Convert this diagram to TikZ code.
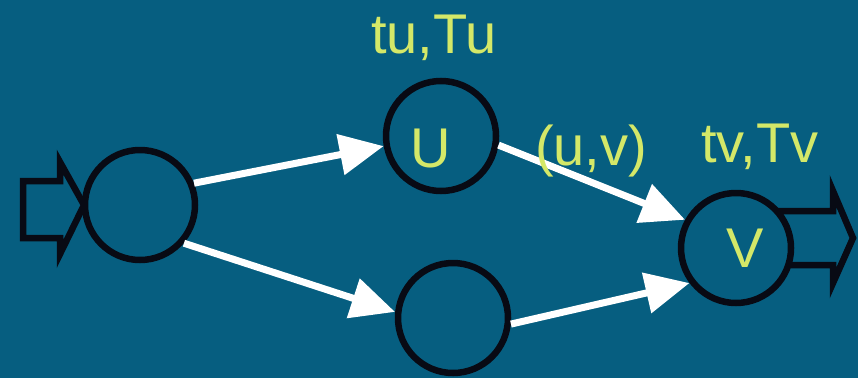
\documentclass[tikz,border=0pt]{standalone}
\usepackage{fontspec}
\setmainfont{Liberation Sans}
\usetikzlibrary{arrows.meta}
\definecolor{bgteal}{RGB}{6,94,128}
\definecolor{labelyellow}{RGB}{212,232,104}
\definecolor{ink}{RGB}{8,10,20}
\begin{document}
\begin{tikzpicture}[x=1pt,y=-1pt,
  event/.style={circle,draw=ink,line width=6.5pt,fill=bgteal,minimum size=110pt,inner sep=0pt},
  timelabel/.style={text=labelyellow,font=\fontsize{56}{60}\selectfont,inner sep=0pt,anchor=base},
  activity/.style={draw=white,line width=7pt,-{Triangle[length=44pt,width=40pt]}},
  blockarrow/.style={draw=ink,line width=6.5pt,fill=bgteal,line join=miter}]
  % background
  \fill[bgteal] (0,0) rectangle (858,378);
  \useasboundingbox (0,0) rectangle (858,378);

  % input and output block arrows
  \draw[blockarrow] (23,181) -- (60,181) -- (60,162) -- (84,205) -- (60,254) -- (60,238) -- (23,238) -- cycle;
  \draw[blockarrow] (780,211) -- (833,211) -- (833,191) -- (853,238) -- (833,283) -- (833,265) -- (780,265) -- cycle;

  % events
  \node[event] (s) at (140,205) {};
  \node[event] (u) at (441,136) {};
  \node[event] (b) at (453,318) {};
  \node[event] (v) at (736,248) {};

  % activities
  \draw[activity] (s.22) -- (u.190);
  \draw[activity] (s.-41) -- (b.174);
  \draw[activity] (u.-9) -- (v.151);
  \draw[activity] (b.-6) -- (v.217);

  % labels
  \node[timelabel] (tu) at (434,53) {tu,Tu};
  \node[timelabel] (ul) at (431,167) {U};
  \node[timelabel] (uv) at (591,165) {(u,v)};
  \node[timelabel] (tv) at (760,162) {tv,Tv};
  \node[timelabel] (vl) at (745,267) {V};
\end{tikzpicture}
\end{document}
